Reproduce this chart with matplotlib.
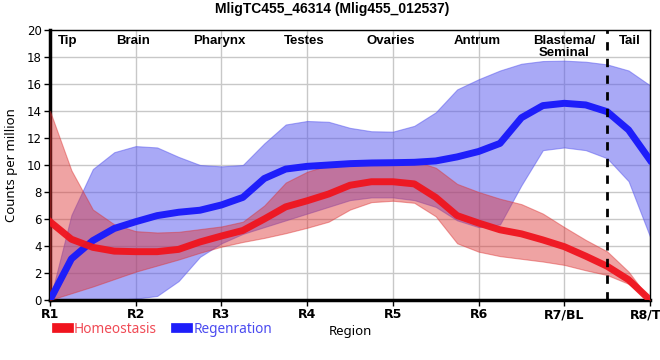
import numpy as np
import matplotlib
matplotlib.use("Agg")
import matplotlib.pyplot as plt
from matplotlib.lines import Line2D

# sample positions along the body axis (R1 = 0 ... R8/TL = 7)
pos = np.arange(0, 7.01, 0.25)

homeo_mean = [5.8, 4.5, 3.9, 3.62, 3.58, 3.58, 3.75, 4.3, 4.74, 5.15, 6.0, 6.9, 7.35, 7.85,
              8.5, 8.76, 8.76, 8.6, 7.6, 6.25, 5.7, 5.2, 4.9, 4.45, 3.95, 3.25, 2.5, 1.5, 0.0]
homeo_hi = [14.0, 9.6, 6.7, 5.6, 5.1, 5.0, 5.05, 5.25, 5.45, 5.8, 7.0, 8.7, 9.5, 10.0,
            10.3, 10.37, 10.37, 10.3, 9.8, 8.6, 8.0, 7.5, 7.1, 6.4, 5.4, 4.45, 3.6, 2.1, 0.0]
homeo_lo = [0.0, 0.5, 1.0, 1.55, 2.1, 2.55, 3.0, 3.5, 3.95, 4.3, 4.6, 4.95, 5.35, 5.8,
            6.7, 7.25, 7.35, 7.2, 6.2, 4.2, 3.58, 3.25, 3.05, 2.85, 2.6, 2.2, 1.85, 1.2, 0.0]

regen_mean = [0.0, 3.05, 4.4, 5.3, 5.8, 6.25, 6.5, 6.65, 7.04, 7.6, 9.0, 9.7, 9.9, 10.0,
              10.1, 10.15, 10.17, 10.2, 10.3, 10.6, 11.0, 11.6, 13.5, 14.4, 14.57, 14.45, 13.95, 12.6, 10.37]
regen_hi = [0.0, 6.3, 9.7, 10.95, 11.4, 11.3, 10.6, 10.0, 9.9, 10.0, 11.6, 13.0, 13.26, 13.2,
            12.75, 12.5, 12.47, 12.9, 13.9, 15.6, 16.35, 17.0, 17.5, 17.7, 17.73, 17.65, 17.45, 17.0, 15.9]
regen_lo = [0.0, 0.0, 0.0, 0.02, 0.1, 0.3, 1.4, 3.2, 4.2, 4.9, 5.4, 5.9, 6.4, 6.9,
            7.4, 7.6, 7.6, 7.4, 6.9, 5.9, 5.4, 5.6, 8.5, 11.1, 11.3, 11.1, 10.5, 8.8, 4.7]

tick_labels = ["R1", "R2", "R3", "R4", "R5", "R6", "R7/BL", "R8/TL"]
regions = ["Tip", "Brain", "Pharynx", "Testes", "Ovaries", "Antrum", "Blastema/\nSeminal", "Tail"]
region_pos = [0.2, 0.97, 1.98, 2.96, 3.97, 4.98, 6.0, 6.77]

red = "#f0141e"
blue = "#1e1efa"

fig = plt.figure(figsize=(6.6, 3.6), dpi=100)
ax = fig.add_axes([50 / 660, 60 / 360, 600 / 660, 270 / 360])

ax.fill_between(pos, regen_lo, regen_hi, color="#5555ee", alpha=0.5, lw=0.8, zorder=2)
ax.fill_between(pos, homeo_lo, homeo_hi, color="#dd3333", alpha=0.45, lw=0.8, zorder=3)
ax.plot(pos, regen_mean, color=blue, lw=5, solid_joinstyle="round", zorder=4)
ax.plot(pos, homeo_mean, color=red, lw=5, alpha=0.95, solid_joinstyle="round", zorder=5)

ax.axvline(6.5, color="black", lw=2, ls=(0, (3, 3)), zorder=6)

ax.set_xlim(0, 7)
ax.set_ylim(0, 20)
ax.set_xticks(range(8))
ax.set_xticklabels(tick_labels, fontsize=9, fontweight="bold", family="DejaVu Sans")
ax.set_yticks(range(0, 21, 2))
ax.tick_params(axis="y", labelsize=8.5, length=4, width=1, pad=2)
ax.tick_params(axis="x", length=4, width=1, pad=2)
ax.grid(True, color="#c8c8c8", lw=1, zorder=0)
ax.set_axisbelow(True)

for s in ["left", "bottom"]:
    ax.spines[s].set_linewidth(2.5)
for s in ["top", "right"]:
    ax.spines[s].set_linewidth(1)

for name, x in zip(regions, region_pos):
    ax.text(x, 19.6, name, ha="center", va="top", fontsize=9.5, fontweight="bold",
            family="Liberation Sans", linespacing=0.95, zorder=7)

ax.set_ylabel("Counts per million", fontsize=9.5, family="Noto Sans", labelpad=6)
ax.set_xlabel("Region", fontsize=9.5, family="Noto Sans", labelpad=3)

fig.suptitle("MligTC455_46314 (Mlig455_012537)", fontsize=10, fontweight="bold",
             family="Liberation Sans", x=0.503, y=0.995)

handles = [Line2D([], [], color=red, lw=7), Line2D([], [], color=blue, lw=7)]
fig.legend(handles, ["Homeostasis", "Regenration"], loc="center left",
           bbox_to_anchor=(0.072, 0.085), ncol=2, frameon=False, handlelength=0.9,
           handletextpad=0.35, columnspacing=1.4, borderpad=0.2,
           prop={"family": "Noto Sans", "size": 9.8}, labelcolor=["#f04a55", "#4a4af0"])

fig.savefig("out.png", dpi=100)
